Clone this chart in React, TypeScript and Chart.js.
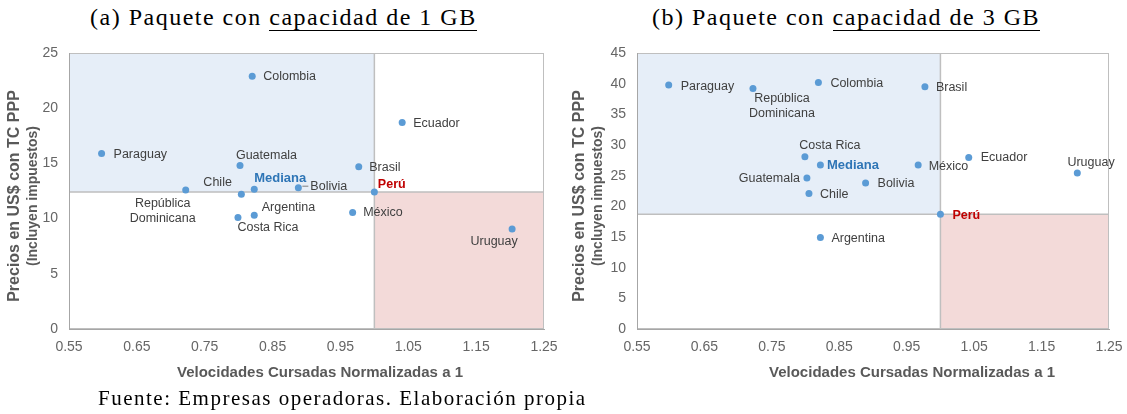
import React, { useEffect, useRef } from 'react';
import { Chart, registerables } from 'chart.js';

Chart.register(...registerables);

// ---------- Shared axis ticks ----------
const xTickValues = [0.55, 0.65, 0.75, 0.85, 0.95, 1.05, 1.15, 1.25];
const yTickValuesA = [0, 5, 10, 15, 20, 25];
const yTickValuesB = [0, 5, 10, 15, 20, 25, 30, 35, 40, 45];

// ---------- (a) Paquete con capacidad de 1 GB ----------
const countriesA = ['Colombia', 'Ecuador', 'Paraguay', 'Guatemala', 'Brasil', 'Chile', 'Bolivia', 'República\nDominicana', 'Argentina', 'Costa Rica', 'México', 'Uruguay'];
const speedA = [0.82, 1.041, 0.598, 0.802, 0.977, 0.804, 0.888, 0.722, 0.823, 0.799, 0.968, 1.203];
const priceA = [22.9, 18.7, 15.9, 14.8, 14.7, 12.2, 12.8, 12.6, 10.3, 10.1, 10.55, 9.05];
const medianSpeedA = [0.823];
const medianPriceA = [12.65];
const peruSpeedA = [1.0];
const peruPriceA = [12.4];

// ---------- (b) Paquete con capacidad de 3 GB ----------
const countriesB = ['Paraguay', 'República\nDominicana', 'Colombia', 'Brasil', 'Costa Rica', 'México', 'Ecuador', 'Uruguay', 'Guatemala', 'Bolivia', 'Chile', 'Argentina'];
const speedB = [0.597, 0.722, 0.819, 0.977, 0.799, 0.967, 1.042, 1.203, 0.802, 0.889, 0.805, 0.822];
const priceB = [39.8, 39.2, 40.2, 39.5, 28.1, 26.75, 27.95, 25.45, 24.6, 23.8, 22.1, 14.9];
const medianSpeedB = [0.822];
const medianPriceB = [26.75];
const peruSpeedB = [1.0];
const peruPriceB = [18.7];

// ---------- Label placement (layout, px offsets from point) ----------
type Place = [number, number, CanvasTextAlign];
const placeA: Place[] = [
  [11, 0.5, 'left'], [11, 0.5, 'left'], [12, 1, 'left'], [26.5, -10, 'center'], [10.5, 1, 'left'],
  [-9.5, -12, 'right'], [12, -1.5, 'left'], [-23, 14, 'center'], [7.5, -8, 'left'], [30, 10.5, 'center'],
  [10.5, 0, 'left'], [-18, 12.7, 'center'],
];
const placeB: Place[] = [
  [12, 1.5, 'left'], [29, 10.3, 'center'], [12, 1, 'left'], [11, 0.7, 'left'], [25, -11, 'center'],
  [10.5, 1.3, 'left'], [12, 0, 'left'], [13.7, -10.7, 'center'], [-7, 0.3, 'right'], [12, 1, 'left'],
  [11, 0.7, 'left'], [11, 1, 'left'],
];
const medianPlaceA: Place = [0, -11, 'left'];
const peruPlaceA: Place = [3.5, -7.5, 'left'];
const medianPlaceB: Place = [6.6, 0.7, 'left'];
const peruPlaceB: Place = [12, 1.3, 'left'];

const SANS = '"Liberation Sans", Arial, sans-serif';
const POINT = '#5B9BD5';
const AXIS = '#A6A6A6';
const LINE = '#BFBFBF';
const LABEL = '#404040';
const TICK = '#666666';

interface Cfg {
  names: string[];
  speed: number[];
  price: number[];
  medSpeed: number[];
  medPrice: number[];
  peruSpeed: number[];
  peruPrice: number[];
  yMax: number;
  yTicks: number[];
  place: Place[];
  medPlace: Place;
  peruPlace: Place;
  yAxisWidth: number;
  padRight: number;
  xTitleX: number;
  leaderIndex: number;
}

function makeChart(canvas: HTMLCanvasElement, c: Cfg) {
  const decor = {
    id: 'decor',
    beforeDraw(chart: any) {
      const { ctx, chartArea: a, scales } = chart;
      const px = scales.x.getPixelForValue(c.peruSpeed[0]);
      const py = scales.y.getPixelForValue(c.peruPrice[0]);
      ctx.save();
      ctx.fillStyle = '#E6EEF8';
      ctx.fillRect(a.left, a.top, px - a.left, py - a.top);
      ctx.fillStyle = '#F3DAD9';
      ctx.fillRect(px, py, a.right - px, a.bottom - py);
      ctx.strokeStyle = LINE;
      ctx.lineWidth = 1.5;
      ctx.beginPath();
      ctx.moveTo(px, a.top);
      ctx.lineTo(px, a.bottom);
      ctx.moveTo(a.left, py);
      ctx.lineTo(a.right, py);
      ctx.stroke();
      ctx.lineWidth = 1;
      ctx.strokeRect(a.left + 0.5, a.top + 0.5, a.right - a.left - 1, a.bottom - a.top - 1);
      ctx.restore();
    },
    afterDraw(chart: any) {
      const { ctx, chartArea: a, scales } = chart;
      ctx.save();
      const put = (text: string, x: number, y: number, p: Place, font: string, color: string) => {
        ctx.font = font;
        ctx.fillStyle = color;
        ctx.textAlign = p[2];
        ctx.textBaseline = 'middle';
        text.split('\n').forEach((t, k) => ctx.fillText(t, x + p[0], y + p[1] + k * 15));
      };
      c.names.forEach((n, i) => {
        const x = scales.x.getPixelForValue(c.speed[i]);
        const y = scales.y.getPixelForValue(c.price[i]);
        put(n, x, y, c.place[i], `12.5px ${SANS}`, LABEL);
        if (i === c.leaderIndex) {
          ctx.strokeStyle = '#7F7F7F';
          ctx.lineWidth = 1;
          ctx.beginPath();
          ctx.moveTo(x + 4, y + c.place[i][1]);
          ctx.lineTo(x + c.place[i][0] - 2, y + c.place[i][1]);
          ctx.stroke();
        }
      });
      const mx = scales.x.getPixelForValue(c.medSpeed[0]);
      const my = scales.y.getPixelForValue(c.medPrice[0]);
      put('Mediana', mx, my, c.medPlace, `bold 13px ${SANS}`, '#2E75B6');
      const rx = scales.x.getPixelForValue(c.peruSpeed[0]);
      const ry = scales.y.getPixelForValue(c.peruPrice[0]);
      put('Perú', rx, ry, c.peruPlace, `bold 12.5px ${SANS}`, '#C00000');

      // axis titles
      ctx.fillStyle = '#595959';
      ctx.textAlign = 'center';
      ctx.textBaseline = 'middle';
      ctx.font = `bold 15px ${SANS}`;
      ctx.fillText('Velocidades Cursadas Normalizadas a 1', c.xTitleX, 333);
      const cy = (a.top + a.bottom) / 2 + 5;
      ctx.save();
      ctx.translate(15, cy);
      ctx.rotate(-Math.PI / 2);
      ctx.font = `bold 16px ${SANS}`;
      ctx.fillText('Precios en US$ con TC PPP', 0, 0);
      ctx.restore();
      ctx.save();
      ctx.translate(33.5, cy);
      ctx.rotate(-Math.PI / 2);
      ctx.font = `bold 14px ${SANS}`;
      ctx.fillText('(Incluyen impuestos)', 0, 0);
      ctx.restore();
      ctx.restore();
    },
  };

  const pt = {
    pointRadius: 3.5,
    pointBackgroundColor: POINT,
    pointBorderColor: POINT,
    pointBorderWidth: 0,
    showLine: false,
  };

  return new Chart(canvas, {
    type: 'scatter',
    data: {
      datasets: [
        { label: 'Países', data: c.speed.map((x, i) => ({ x, y: c.price[i] })), ...pt },
        { label: 'Mediana', data: c.medSpeed.map((x, i) => ({ x, y: c.medPrice[i] })), ...pt },
        { label: 'Perú', data: c.peruSpeed.map((x, i) => ({ x, y: c.peruPrice[i] })), ...pt },
      ],
    },
    options: {
      responsive: false,
      animation: false,
      events: [],
      layout: { padding: { top: 13, right: c.padRight, bottom: 0, left: 0 } },
      plugins: { legend: { display: false }, tooltip: { enabled: false } },
      scales: {
        x: {
          type: 'linear',
          min: 0.55,
          max: 1.25,
          afterBuildTicks: (ax: any) => { ax.ticks = xTickValues.map((v) => ({ value: v })); },
          afterFit: (s: any) => { s.height = 61; },
          grid: { color: 'rgba(0,0,0,0)', drawTicks: true, tickLength: 10 },
          border: { color: AXIS, width: 1 },
          ticks: { padding: 0, color: TICK, font: { family: SANS, size: 14 }, callback: (v: any) => Number(v).toFixed(2), maxRotation: 0, autoSkip: false },
        },
        y: {
          type: 'linear',
          min: 0,
          max: c.yMax,
          afterBuildTicks: (ax: any) => { ax.ticks = c.yTicks.map((v) => ({ value: v })); },
          afterFit: (s: any) => { s.width = c.yAxisWidth; },
          grid: { color: 'rgba(0,0,0,0)', drawTicks: true, tickLength: 11 },
          border: { color: AXIS, width: 1 },
          ticks: { padding: 0, color: TICK, font: { family: SANS, size: 14 }, autoSkip: false },
        },
      },
    } as any,
    plugins: [decor],
  });
}

function Panel({ cfg, left, width }: { cfg: Cfg; left: number; width: number }) {
  const ref = useRef<HTMLCanvasElement>(null);
  useEffect(() => {
    if (!ref.current) return;
    const ch = makeChart(ref.current, cfg);
    return () => ch.destroy();
  }, []);
  return (
    <canvas
      ref={ref}
      width={width}
      height={350}
      style={{ position: 'absolute', left, top: 40, width, height: 350 }}
    />
  );
}

const titleStyle: React.CSSProperties = {
  position: 'absolute',
  top: 3,
  fontFamily: '"Liberation Serif", "Times New Roman", serif',
  fontSize: 24,
  lineHeight: '28px',
  letterSpacing: 1.5,
  whiteSpace: 'nowrap',
  color: '#000',
};

export default function App() {
  const cfgA: Cfg = {
    names: countriesA, speed: speedA, price: priceA,
    medSpeed: medianSpeedA, medPrice: medianPriceA,
    peruSpeed: peruSpeedA, peruPrice: peruPriceA,
    yMax: 25, yTicks: yTickValuesA, place: placeA, medPlace: medianPlaceA, peruPlace: peruPlaceA,
    yAxisWidth: 69, padRight: 16, xTitleX: 320, leaderIndex: 6,
  };
  const cfgB: Cfg = {
    names: countriesB, speed: speedB, price: priceB,
    medSpeed: medianSpeedB, medPrice: medianPriceB,
    peruSpeed: peruSpeedB, peruPrice: peruPriceB,
    yMax: 45, yTicks: yTickValuesB, place: placeB, medPlace: medianPlaceB, peruPlace: peruPlaceB,
    yAxisWidth: 72, padRight: 18, xTitleX: 347, leaderIndex: -1,
  };
  return (
    <div style={{ position: 'absolute', left: 0, top: 0, width: 1127, height: 414, background: '#fff', overflow: 'hidden' }}>
      <div style={{ ...titleStyle, left: 90 }}>
        (a) Paquete con <span style={{ borderBottom: '1px solid #000' }}>capacidad de 1 GB</span>
      </div>
      <div style={{ ...titleStyle, left: 652 }}>
        (b) Paquete con <span style={{ borderBottom: '1px solid #000' }}>capacidad de 3 GB</span>
      </div>
      <Panel cfg={cfgA} left={0} width={560} />
      <Panel cfg={cfgB} left={565} width={562} />
      <div
        style={{
          position: 'absolute',
          left: 98,
          top: 386,
          fontFamily: '"Liberation Serif", "Times New Roman", serif',
          fontSize: 21,
          lineHeight: '24px',
          letterSpacing: 1.5,
          whiteSpace: 'nowrap',
          color: '#000',
        }}
      >
        Fuente: Empresas operadoras. Elaboración propia
      </div>
    </div>
  );
}
